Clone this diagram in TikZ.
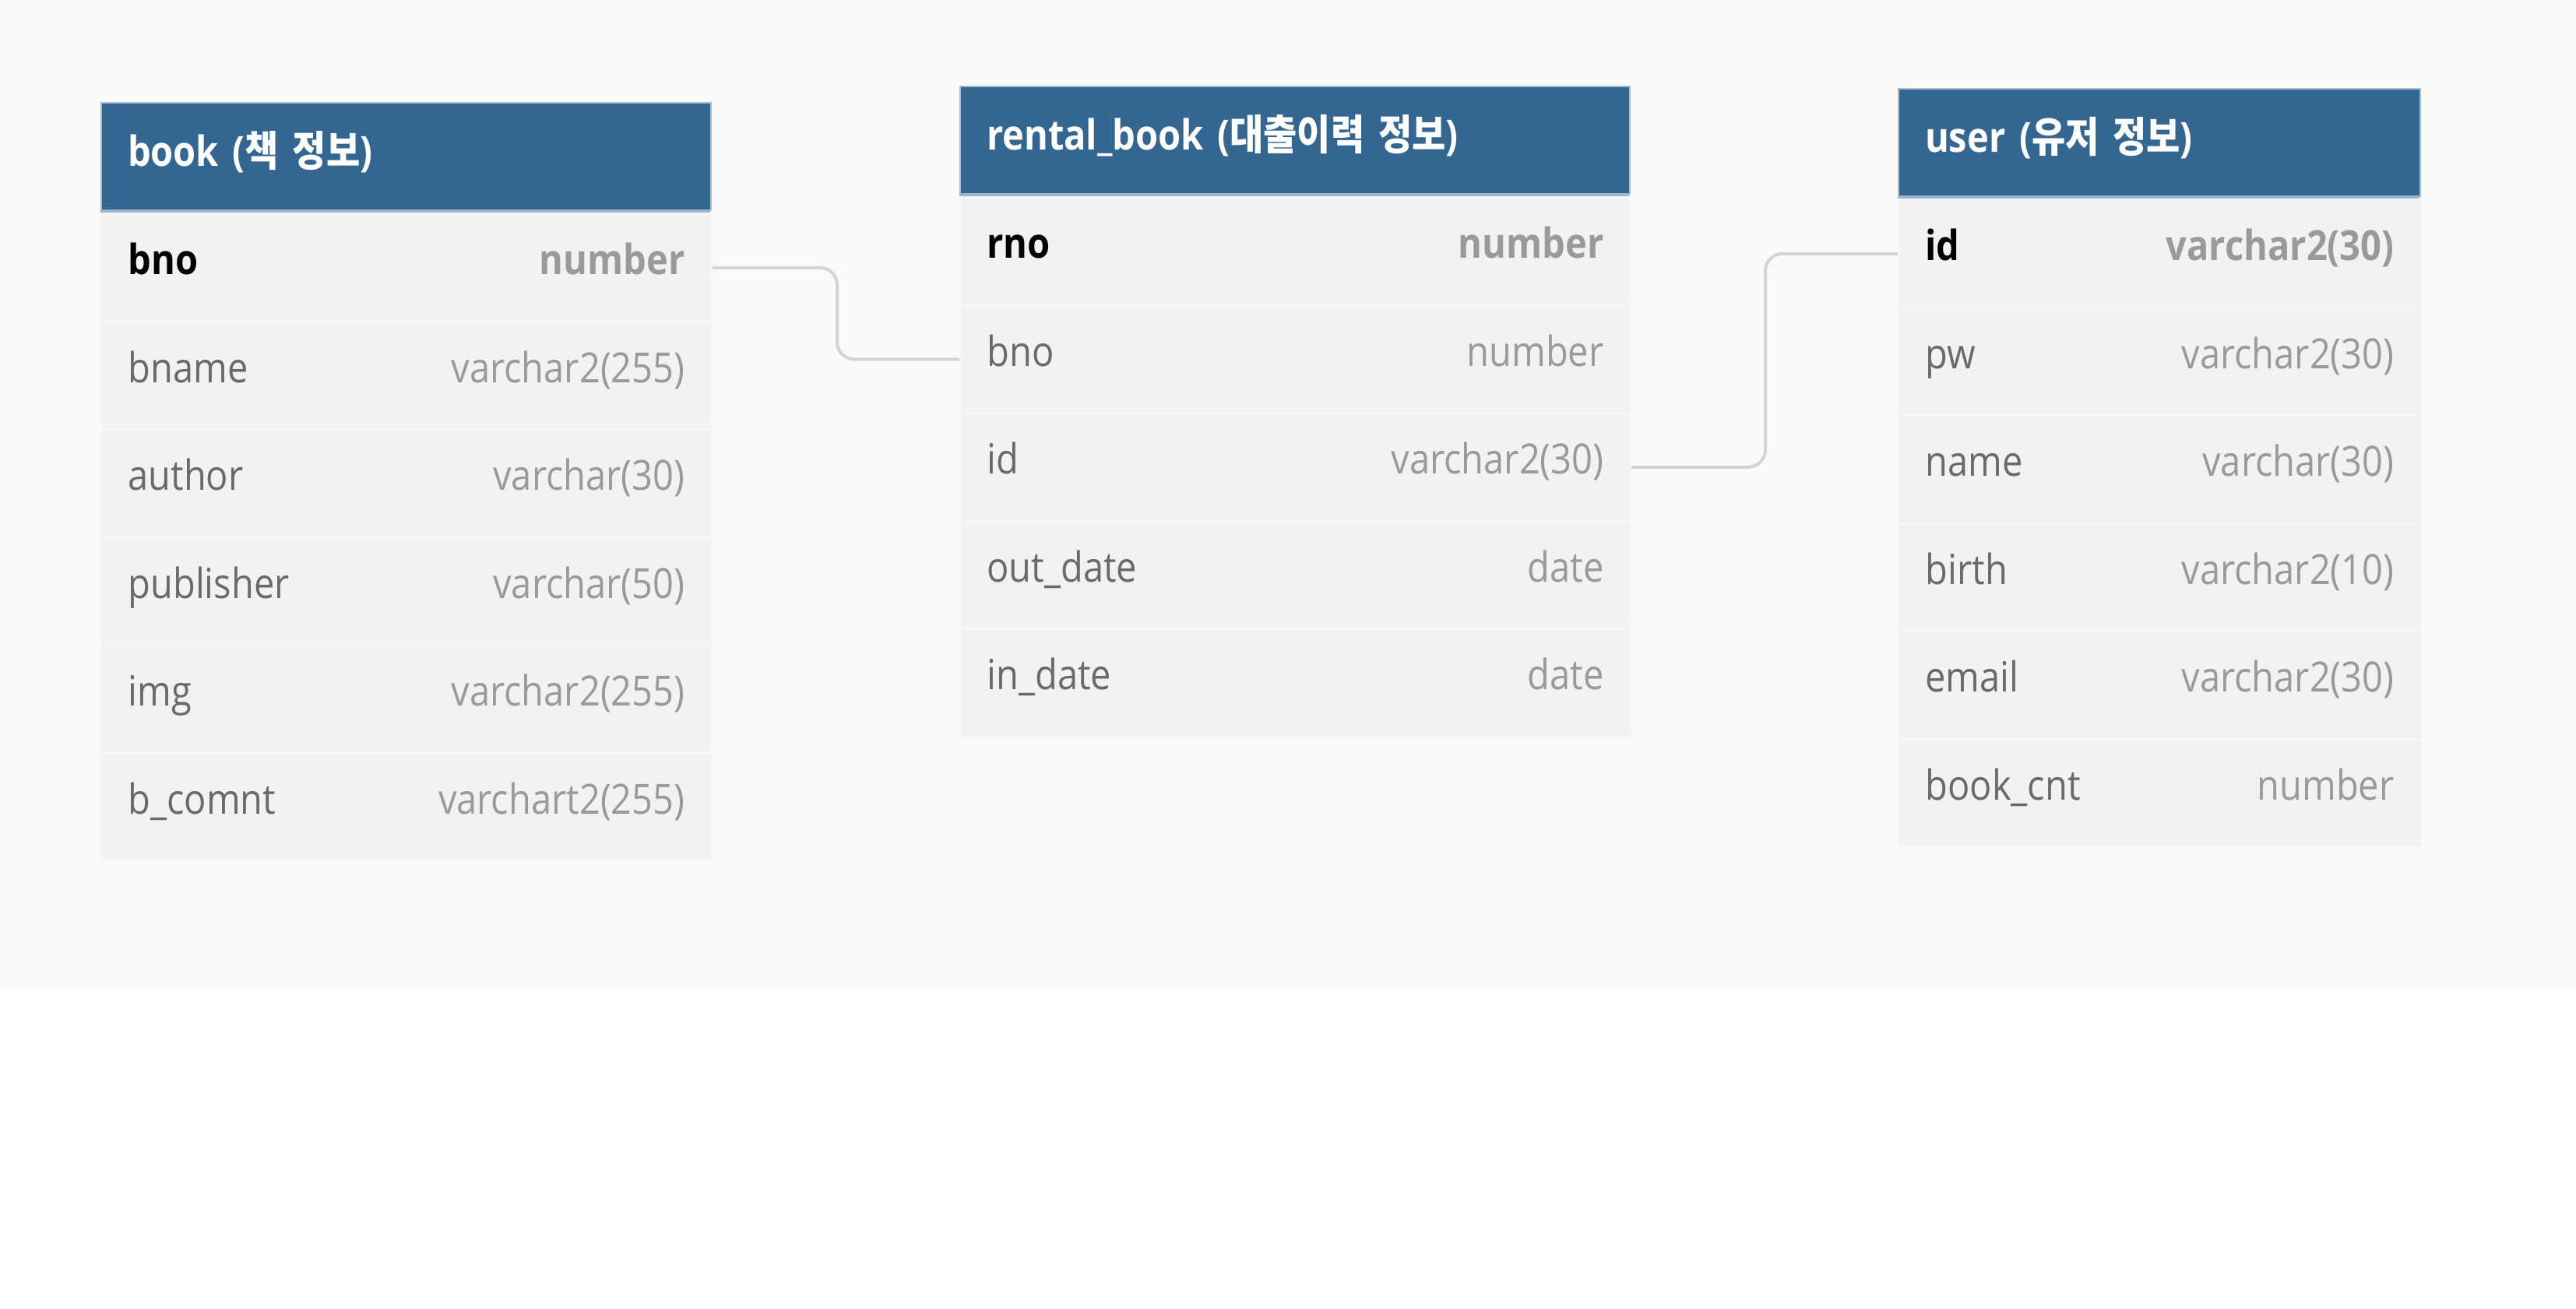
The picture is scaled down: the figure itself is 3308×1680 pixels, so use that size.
\documentclass[tikz,border=0pt]{standalone}
\usepackage{fontspec}
\setmainfont{Open Sans}[FakeStretch=0.88]
\newfontfamily\kr{Noto Sans CJK KR}[FakeStretch=0.88]

\definecolor{pagebg}{HTML}{FAFAFA}
\definecolor{headblue}{HTML}{336791}
\definecolor{headedge}{HTML}{A7BDD1}
\definecolor{headstrip}{HTML}{9CB6CE}
\definecolor{rowfill}{HTML}{F2F2F2}
\definecolor{rowline}{HTML}{F6F6F6}
\definecolor{linkgray}{HTML}{D4D4D4}
\definecolor{fieldgray}{HTML}{6A6A6A}
\definecolor{typegray}{HTML}{9A9A9A}

\newcommand{\fld}[2]{{\color{fieldgray}#1}\hskip 0pt plus 1filll{\color{typegray}#2}}
\newcommand{\keyfld}[2]{{\bfseries\color{black}#1\hskip 0pt plus 1filll\color{typegray}#2}}

\begin{document}
\begin{tikzpicture}[x=0.1mm, y=-0.1mm,
  head/.style={rectangle, anchor=north west, fill=headblue, draw=headedge, line width=0.2mm,
    minimum height=13.8mm, inner xsep=3.4mm, inner ysep=0pt, text height=0.85em, text depth=0.15em,
    text=white, font=\fontsize{15.2pt}{18pt}\selectfont\bfseries},
  row/.style={rectangle, anchor=north west, fill=rowfill, draw=rowline, line width=0.3mm,
    minimum height=13.85mm, inner xsep=3.4mm, inner ysep=0pt, text height=0.75em, text depth=0.25em,
    font=\fontsize{15.2pt}{18pt}\selectfont},
  strip/.style={draw=headstrip, line width=0.4mm},
  link/.style={draw=linkgray, line width=0.4mm, rounded corners=2.2mm}]
\fill[white] (0,0) rectangle (3308,1680);
\fill[pagebg] (0,0) rectangle (3308,1272);
\useasboundingbox (0,0) rectangle (3308,1680);

% Table book
\begin{scope}[shift={(129,131)}]
\node[head, text width=71.5mm] (book) at (0,0) {book ({\kr 책 정보})};
\draw[strip] (0,140) -- (783,140);
\node[row, text width=71.5mm] (book-bno) at (0,142) {\keyfld{bno}{number}};
\node[row, text width=71.5mm] (book-bname) at (0,280.5) {\fld{bname}{varchar2(255)}};
\node[row, text width=71.5mm] (book-author) at (0,419) {\fld{author}{varchar(30)}};
\node[row, text width=71.5mm] (book-publisher) at (0,557.5) {\fld{publisher}{varchar(50)}};
\node[row, text width=71.5mm] (book-img) at (0,696) {\fld{img}{varchar2(255)}};
\node[row, text width=71.5mm] (book-comnt) at (0,834.5) {\fld{b\_comnt}{varchart2(255)}};
\end{scope}

% Table rental_book
\begin{scope}[shift={(1232,110)}]
\node[head, text width=79.2mm] (rental) at (0,0) {rental\_book ({\kr 대출이력 정보})};
\draw[strip] (0,140) -- (860,140);
\node[row, text width=79.2mm] (rental-rno) at (0,142) {\keyfld{rno}{number}};
\node[row, text width=79.2mm] (rental-bno) at (0,280.5) {\fld{bno}{number}};
\node[row, text width=79.2mm] (rental-id) at (0,419) {\fld{id}{varchar2(30)}};
\node[row, text width=79.2mm] (rental-out) at (0,557.5) {\fld{out\_date}{date}};
\node[row, text width=79.2mm] (rental-in) at (0,696) {\fld{in\_date}{date}};
\end{scope}

% Table user
\begin{scope}[shift={(2437,113)}]
\node[head, text width=60.2mm] (user) at (0,0) {user ({\kr 유저 정보})};
\draw[strip] (0,140) -- (670,140);
\node[row, text width=60.2mm] (user-id) at (0,142) {\keyfld{id}{varchar2(30)}};
\node[row, text width=60.2mm] (user-pw) at (0,280.5) {\fld{pw}{varchar2(30)}};
\node[row, text width=60.2mm] (user-name) at (0,419) {\fld{name}{varchar(30)}};
\node[row, text width=60.2mm] (user-birth) at (0,557.5) {\fld{birth}{varchar2(10)}};
\node[row, text width=60.2mm] (user-email) at (0,696) {\fld{email}{varchar2(30)}};
\node[row, text width=60.2mm] (user-cnt) at (0,834.5) {\fld{book\_cnt}{number}};
\end{scope}

% Relations
\draw[link] (book-bno.east) -- ++(160,0) |- (rental-bno.west);
\draw[link] (rental-id.east) -- ++(172,0) |- (user-id.west);
\end{tikzpicture}
\end{document}
